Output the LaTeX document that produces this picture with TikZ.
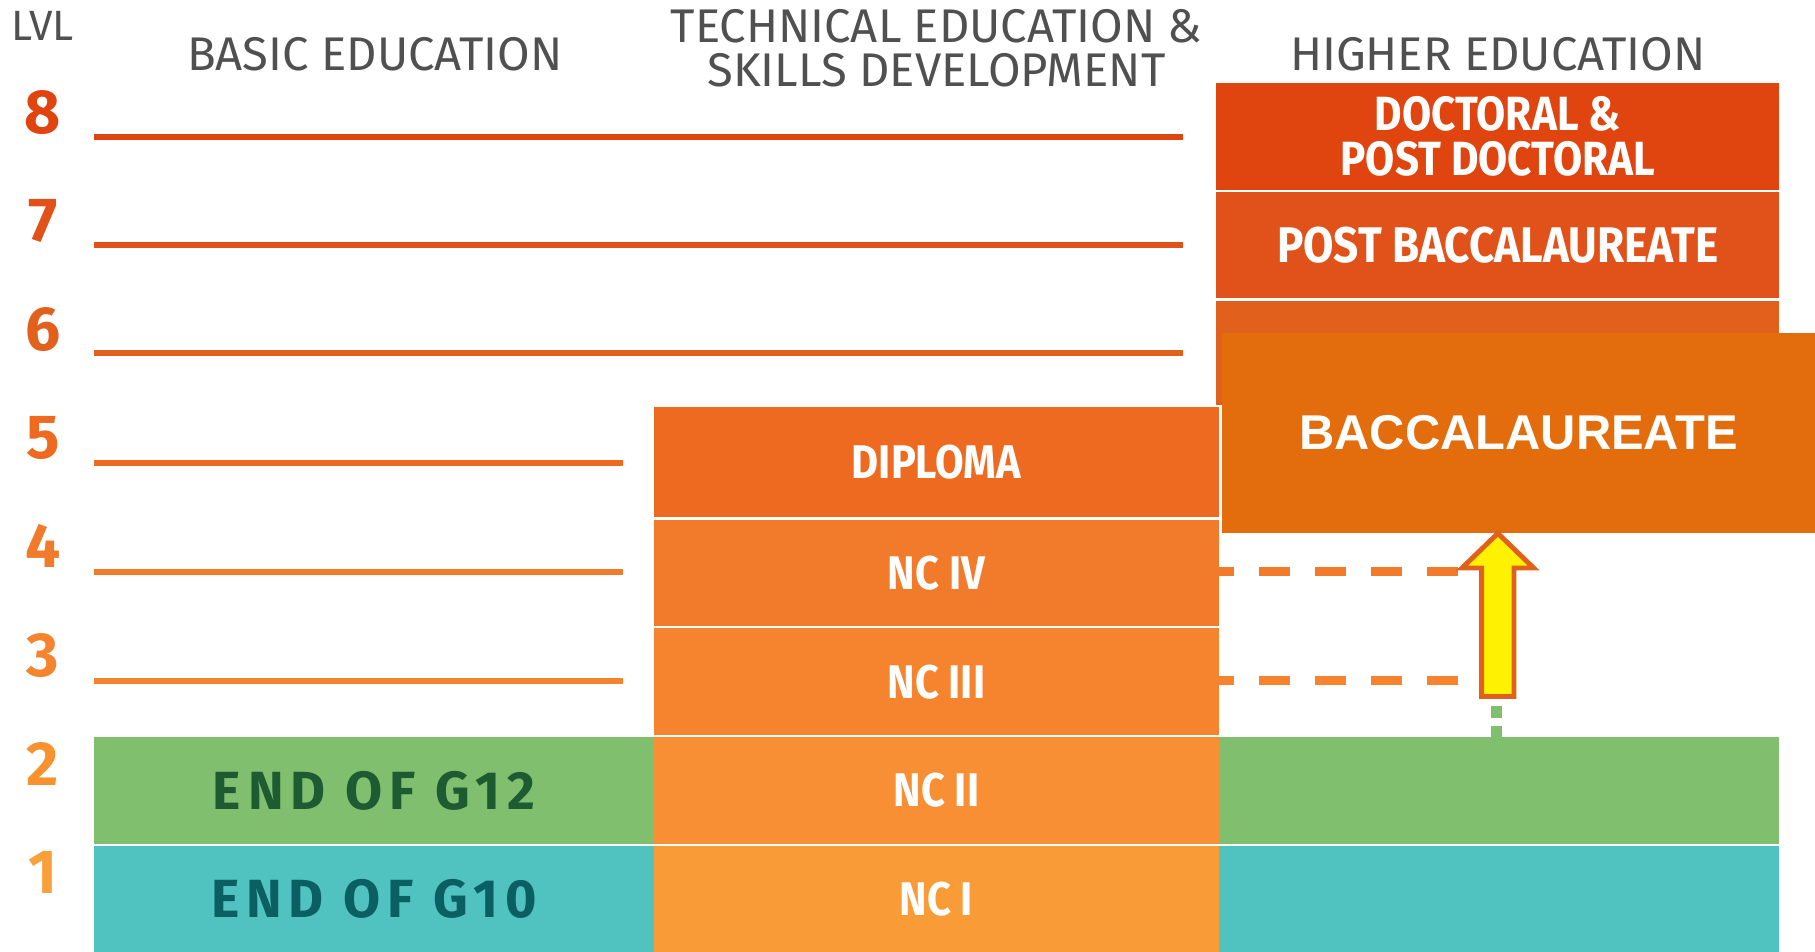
\documentclass[tikz,border=0pt]{standalone}
\usepackage{fontspec}
\usepackage{xcolor}
\usepackage{tikz}
\setmainfont{Fira Sans}
\newfontfamily\headfont{Fira Sans}
\newfontfamily\cellfont[FakeStretch=0.88]{Fira Sans}
\newfontfamily\rowfont[LetterSpace=13]{Fira Sans}
\newfontfamily\baccfont{Liberation Sans}

\definecolor{headgray}{HTML}{505050}
\definecolor{lvl8}{HTML}{E0440F}
\definecolor{lvl7}{HTML}{E0521A}
\definecolor{lvl6}{HTML}{E0601C}
\definecolor{lvl5}{HTML}{EE6A21}
\definecolor{lvl4}{HTML}{F17A2B}
\definecolor{lvl3}{HTML}{F6842F}
\definecolor{lvl2}{HTML}{F88F34}
\definecolor{lvl1}{HTML}{F99B37}
\definecolor{num2}{HTML}{F8922F}
\definecolor{num1}{HTML}{F9A03A}
\definecolor{bacc}{HTML}{E36D0C}
\definecolor{gtwelve}{HTML}{80BF6E}
\definecolor{gten}{HTML}{50C3C0}
\definecolor{gtwelvetxt}{HTML}{1E5A32}
\definecolor{gtentxt}{HTML}{0B5E62}

\tikzset{
  head/.style={text=headgray, inner sep=0pt, align=center,
    font=\headfont\fontsize{11.6}{10.8}\selectfont},
  lvlnum/.style={inner sep=0pt, font=\bfseries\fontsize{15.3}{16}\selectfont},
  lvlline/.style={line width=1.45pt},
  cell/.style={inner sep=0pt, outer sep=0pt, text=white, align=center,
    font=\cellfont\bfseries\fontsize{11.6}{10.5}\selectfont},
  rowcell/.style={inner sep=0pt, outer sep=0pt,
    font=\rowfont\bfseries\fontsize{13.2}{14}\selectfont},
}

\begin{document}
\begin{tikzpicture}[x=0.01cm,y=-0.01cm]
  \useasboundingbox (0,0) rectangle (1568,822);

  % column heads
  \node[head, font=\headfont\fontsize{10.4}{10}\selectfont] (lvl) at (37,22) {LVL};
  \node[head] (basic) at (324,47) {BASIC EDUCATION};
  \node[head] (tech) at (809,42) {TECHNICAL EDUCATION \&\\SKILLS DEVELOPMENT};
  \node[head] (higher) at (1294,47) {HIGHER EDUCATION};

  % level numbers
  \foreach \n/\y/\c in {8/97/lvl8,7/191/lvl7,6/285/lvl6,5/378/lvl5,
                        4/472/lvl4,3/566/lvl3,2/660/num2,1/754/num1}
    \node[lvlnum, text=\c] (n\n) at (37,\y) {\n};

  % level lines
  \foreach \n/\y/\xe in {8/118/1022,7/212/1022,6/305/1022,
                         5/400/538,4/494/538,3/588/538}
    \draw[lvlline, lvl\n] (81,\y) -- (\xe,\y);

  % higher education
  \node[cell, fill=lvl8, minimum width=4.86cm, minimum height=0.93cm,
        font=\cellfont\bfseries\fontsize{11.8}{10.6}\selectfont] (doc) at (1294,118) {DOCTORAL \&\\[0.4pt]POST DOCTORAL};
  \node[cell, fill=lvl7, minimum width=4.86cm, minimum height=0.91cm,
        font=\cellfont\bfseries\fontsize{12.3}{10.5}\selectfont] (postbacc) at (1294,211.5) {POST BACCALAUREATE};
  \node[cell, fill=lvl6, minimum width=4.86cm, minimum height=0.90cm] (six) at (1294,305) {};

  % technical education
  \node[cell, fill=lvl5, minimum width=4.88cm, minimum height=0.95cm] (dipl) at (809,399.5) {DIPLOMA};
  \node[cell, fill=lvl4, minimum width=4.88cm, minimum height=0.92cm] (nciv) at (809,495) {NC IV};
  \node[cell, fill=lvl3, minimum width=4.88cm, minimum height=0.92cm] (nciii) at (809,589) {NC III};
  \node[cell, fill=lvl2, minimum width=4.88cm, minimum height=0.92cm] (ncii) at (809,683) {NC II};
  \node[cell, fill=lvl1, minimum width=4.88cm, minimum height=0.91cm] (nci) at (809,776.5) {NC I};

  % basic education
  \node[rowcell, fill=gtwelve, text=gtwelvetxt, minimum width=4.84cm, minimum height=0.92cm] (gtw) at (323,683) {END OF G12};
  \node[rowcell, fill=gten, text=gtentxt, minimum width=4.84cm, minimum height=0.91cm] (gtn) at (323,776.5) {END OF G10};
  \node[rowcell, fill=gtwelve, minimum width=4.84cm, minimum height=0.92cm] (gtwr) at (1295,683) {};
  \node[rowcell, fill=gten, minimum width=4.84cm, minimum height=0.91cm] (gtnr) at (1295,776.5) {};

  % baccalaureate
  \node[fill=bacc, text=white, inner sep=0pt, minimum width=5.12cm, minimum height=1.72cm,
        font=\baccfont\bfseries\fontsize{12}{12}\selectfont] (bacc) at (1312,374) {BACCALAUREATE};

  % dashed links
  \coordinate (div) at (1260,494);
  \coordinate (diii) at (1260,588);
  \draw[lvl4, line width=2.3pt, dash pattern=on 7.7pt off 6.1pt] (div) -- (nciv.east |- div);
  \draw[lvl3, line width=2.3pt, dash pattern=on 7.7pt off 6.1pt] (diii) -- (nciii.east |- diii);

  % green dots
  \coordinate (dot) at (1293,604);
  \draw[gtwelve, line width=2.8pt, dash pattern=on 2.8pt off 2pt] (gtwr.north -| dot) -- (dot);

  % arrow
  \coordinate (tip) at (bacc.south -| 1294,0);
  \draw[fill=yellow, draw=lvl6, line width=1.2pt, line join=miter]
    (tip) -- ++(31,30) -- ++(-17,0) -- ++(0,111) -- ++(-28,0)
    -- ++(0,-111) -- ++(-17,0) -- cycle;
\end{tikzpicture}
\end{document}
